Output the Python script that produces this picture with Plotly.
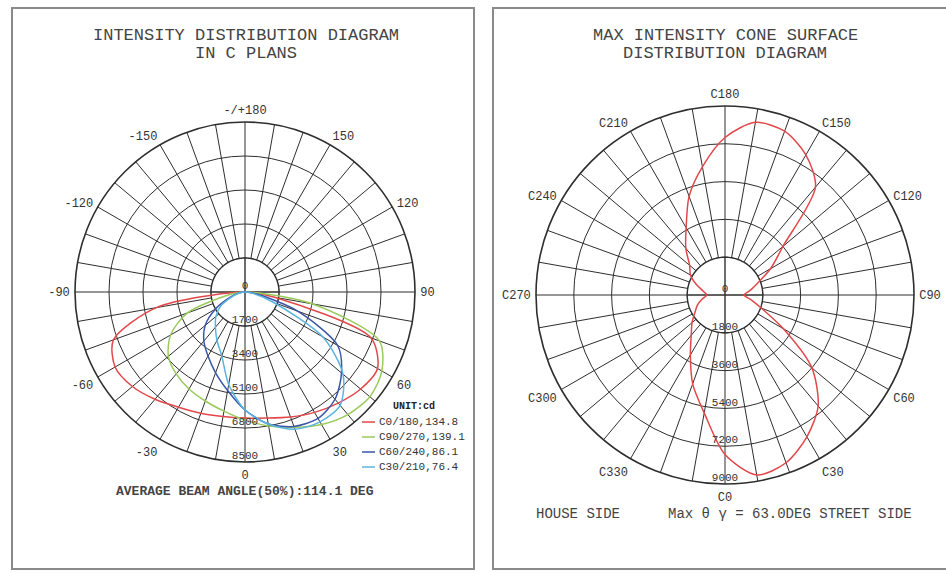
import numpy as np
import plotly.graph_objects as go

# ---------------- data ----------------
GAMMA = [-90, -80, -70, -60, -50, -40, -30, -20, -10, 0, 10, 20, 30, 40, 50, 60, 70, 80, 90]
C0_180 = [0, 4500, 7000, 7500, 7350, 7000, 6650, 6450, 6320, 6300, 6400, 6650, 6950, 7250, 7550, 7650, 6700, 1500, 0]
C90_270 = [0, 800, 3080, 4300, 5000, 5350, 5600, 5800, 6050, 6400, 6800, 7200, 7650, 8000, 8150, 7900, 7150, 3400, 0]
C60_240 = [0, 300, 800, 1700, 2600, 3200, 3700, 4300, 5000, 5900, 6700, 7150, 7300, 7000, 6300, 5350, 2800, 600, 0]
C30_210 = [0, 300, 700, 1400, 1900, 2300, 2800, 3400, 4700, 5900, 6700, 7300, 7500, 7400, 6400, 4500, 1500, 400, 0]
SERIES_NAMES = ["C0/180,134.8", "C90/270,139.1", "C60/240,86.1", "C30/210,76.4"]
SERIES_COLORS = ["#e2474a", "#9acb5a", "#3a56a8", "#5ab4e2"]
LEGEND_TITLE = "UNIT:cd"

C_ANGLES = [0, 10, 20, 30, 40, 50, 60, 70, 80, 90, 100, 110, 120, 130, 140, 150, 160, 170, 180,
            190, 200, 210, 220, 230, 240, 250, 260, 270, 280, 290, 300, 310, 320, 330, 340, 350, 360]
MAX_CONE = [7600, 8700, 8500, 7800, 6900, 5400, 3200, 1850, 1250, 900, 1200, 1650, 2500, 3600, 6700,
            7700, 8300, 8350, 7500, 6200, 5000, 3700, 2900, 2200, 1900, 1450, 1050, 860, 1100, 1400,
            1650, 2050, 2500, 3300, 4500, 5700, 7600]

LEFT_RADIAL = [1700, 3400, 5100, 6800, 8500]
RIGHT_RADIAL = [1800, 3600, 5400, 7200, 9000]
LEFT_ANG_LABELS = ["0", "30", "60", "90", "120", "150", "-/+180", "-150", "-120", "-90", "-60", "-30"]
RIGHT_ANG_LABELS = ["C0", "C30", "C60", "C90", "C120", "C150", "C180", "C210", "C240", "C270", "C300", "C330"]

FONT = "Liberation Mono, Courier New, monospace"
GRID = "#2e2e2e"
TXT = "#444444"
W, H = 946, 573

fig = go.Figure()

def add_center(sub, r_in):
    th = np.linspace(0, 360, 181)
    fig.add_trace(go.Scatterpolar(r=[r_in] * len(th), theta=th, mode="lines", fill="toself",
                                  fillcolor="white", line=dict(color=GRID, width=1.4),
                                  subplot=sub, showlegend=False, hoverinfo="skip"))
    for a in (0, 90):
        fig.add_trace(go.Scatterpolar(r=[r_in, 0, r_in], theta=[a, a, a + 180], mode="lines",
                                      line=dict(color=GRID, width=1.4), subplot=sub,
                                      showlegend=False, hoverinfo="skip"))

def add_radial_labels(sub, ticks):
    fig.add_trace(go.Scatterpolar(r=[0] + ticks, theta=[0] * (len(ticks) + 1),
                                  text=["0"] + [str(t) for t in ticks], mode="text",
                                  textposition="top center",
                                  textfont=dict(family=FONT, size=11, color="#333"),
                                  subplot=sub, showlegend=False, hoverinfo="skip"))

# left chart
add_center("polar", LEFT_RADIAL[0])
for name, vals, col in zip(SERIES_NAMES, [C0_180, C90_270, C60_240, C30_210], SERIES_COLORS):
    fig.add_trace(go.Scatterpolar(r=vals, theta=GAMMA, mode="lines", name=name,
                                  line=dict(color=col, width=1.5, shape="spline", smoothing=0.8),
                                  subplot="polar", showlegend=False))
add_radial_labels("polar", LEFT_RADIAL)

# right chart
add_center("polar2", RIGHT_RADIAL[0])
fig.add_trace(go.Scatterpolar(r=MAX_CONE, theta=C_ANGLES, mode="lines", name="max cone",
                              line=dict(color="#e2474a", width=1.5, shape="spline", smoothing=0.8),
                              subplot="polar2", showlegend=False))
add_radial_labels("polar2", RIGHT_RADIAL)

ang_vals = list(range(0, 360, 10))

def polar_layout(domx, domy, rmax, rticks, labels):
    txt = [labels[v // 30] if v % 30 == 0 else "" for v in ang_vals]
    return dict(
        domain=dict(x=domx, y=domy),
        bgcolor="white",
        radialaxis=dict(range=[0, rmax], tickvals=rticks, showticklabels=False, ticks="",
                        showline=False, gridcolor=GRID, gridwidth=1.4, layer="below traces"),
        angularaxis=dict(rotation=-90, direction="counterclockwise", tickvals=ang_vals,
                         ticktext=txt, ticks="outside", ticklen=2, tickcolor="rgba(0,0,0,0)",
                         showline=True, linecolor=GRID, linewidth=1.6, gridcolor=GRID,
                         gridwidth=1.4, layer="below traces",
                         tickfont=dict(family=FONT, size=12, color="#333")),
    )

fig.update_layout(
    width=W, height=H, margin=dict(l=0, r=0, t=0, b=0),
    paper_bgcolor="white", plot_bgcolor="white", showlegend=False,
    polar=polar_layout([75 / W, 415 / W], [1 - 462 / H, 1 - 122 / H], 8500, LEFT_RADIAL, LEFT_ANG_LABELS),
    polar2=polar_layout([536 / W, 914 / W], [1 - 484 / H, 1 - 106 / H], 9000, RIGHT_RADIAL, RIGHT_ANG_LABELS),
)

shapes = [
    dict(type="rect", xref="paper", yref="paper", x0=12 / W, x1=474 / W, y0=1 - 569 / H, y1=1 - 8 / H,
         line=dict(color="#8a8a8a", width=2)),
    dict(type="rect", xref="paper", yref="paper", x0=493 / W, x1=1.02, y0=1 - 569 / H, y1=1 - 8 / H,
         line=dict(color="#8a8a8a", width=2)),
]

def ann(text, x, y, size, bold=False, xanchor="center", color=TXT):
    return dict(text=(f"<b>{text}</b>" if bold else text), x=x / W, y=1 - y / H, xref="paper", yref="paper",
                showarrow=False, xanchor=xanchor, yanchor="middle",
                font=dict(family=FONT, size=size, color=color))

annotations = [
    ann("INTENSITY DISTRIBUTION DIAGRAM", 246, 36, 17),
    ann("IN C PLANS", 246, 53, 17),
    ann("MAX INTENSITY CONE SURFACE", 725, 36, 17),
    ann("DISTRIBUTION DIAGRAM", 725, 54, 17),
    ann("AVERAGE BEAM ANGLE(50%):114.1 DEG", 245, 491, 13, bold=True),
    ann("HOUSE SIDE", 578, 514, 14),
    ann("Max θ γ = 63.0DEG STREET SIDE", 790, 514, 14),
    ann(LEGEND_TITLE, 414, 406, 10, bold=True, color="#222"),
]
# compact legend (key lines + labels) for the four C-plane series
for i, (name, col) in enumerate(zip(SERIES_NAMES, SERIES_COLORS)):
    y = 422 + 15 * i
    shapes.append(dict(type="line", xref="paper", yref="paper", x0=362 / W, x1=375 / W,
                       y0=1 - y / H, y1=1 - y / H, line=dict(color=col, width=1.5)))
    annotations.append(ann(name, 377, y, 11, xanchor="left", color="#333"))

fig.update_layout(shapes=shapes, annotations=annotations)

fig.write_html("out.html", config={"displayModeBar": False},
               post_script="document.body.style.margin='0';")
